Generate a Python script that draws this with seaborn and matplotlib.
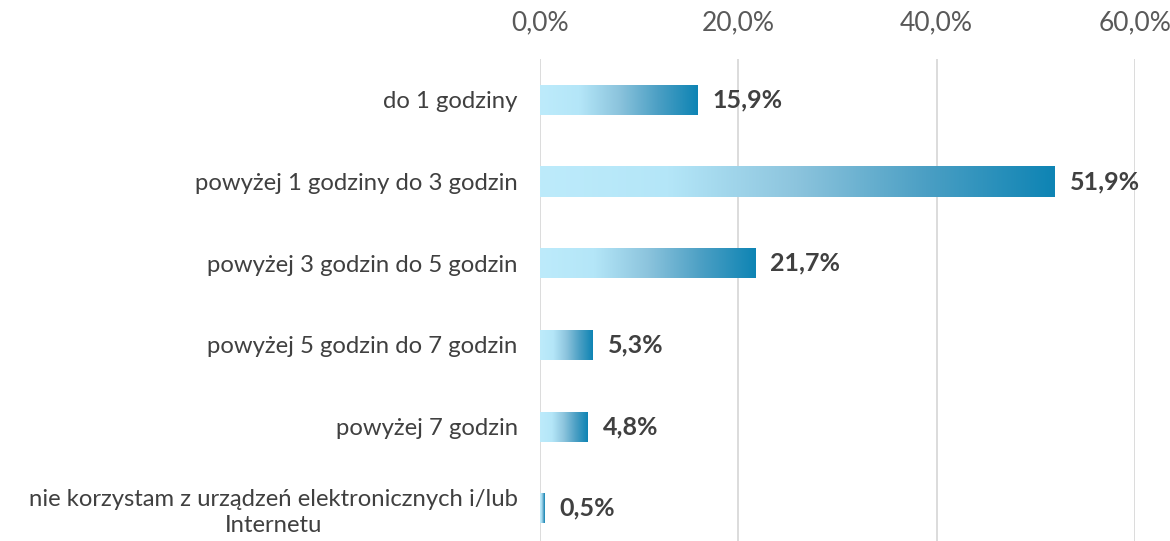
import numpy as np
import pandas as pd
import seaborn as sns
import matplotlib.pyplot as plt
from matplotlib.colors import LinearSegmentedColormap
from matplotlib.ticker import FuncFormatter

categories = [
    "do 1 godziny",
    "powyżej 1 godziny do 3 godzin",
    "powyżej 3 godzin do 5 godzin",
    "powyżej 5 godzin do 7 godzin",
    "powyżej 7 godzin",
    "nie korzystam z urządzeń elektronicznych i/lub\nInternetu",
]
values = [15.9, 51.9, 21.7, 5.3, 4.8, 0.5]
xticks = [0, 20, 40, 60]

df = pd.DataFrame({"category": categories, "value": values})

sns.set_style("white")
plt.rcParams["font.family"] = ["Lato", "DejaVu Sans"]

fig = plt.figure(figsize=(11.7, 5.41), dpi=100)
ax = fig.add_axes([540 / 1170, 0, (1135 - 540) / 1170, 1 - 59 / 541])

sns.barplot(data=df, x="value", y="category", ax=ax, width=0.37,
            color="#1086b6", orient="h")

# gradient fill per bar, clipped to the bar rectangle
grad = LinearSegmentedColormap.from_list(
    "bar", ["#bdebfb", "#b4e6f8", "#8cc4dd", "#4b9fc4", "#0e84b4"]
)
gradient = np.linspace(0, 1, 256).reshape(1, -1)
for patch in ax.patches:
    x0, y0 = patch.get_x(), patch.get_y()
    w, h = patch.get_width(), patch.get_height()
    im = ax.imshow(gradient, cmap=grad, aspect="auto",
                   extent=[x0, x0 + w, y0 + h, y0], zorder=3)
    im.set_clip_path(patch)
    patch.set_facecolor("none")
    patch.set_edgecolor("none")
    ax.text(x0 + w + 1.5, y0 + h / 2, f"{w:.1f}%".replace(".", ","),
            va="center", ha="left", fontsize=18, fontweight="bold",
            color="#404040", zorder=4)

ax.set_xlim(0, 60)
ax.set_ylim(5.4, -0.5)
ax.set_xticks(xticks)
ax.xaxis.set_major_formatter(FuncFormatter(lambda v, p: f"{v:.1f}%".replace(".", ",")))
ax.xaxis.tick_top()
ax.tick_params(axis="x", length=0, pad=17, labelsize=19, labelcolor="#595959")
ax.set_yticks(range(len(categories)), labels=categories,
              multialignment="center", linespacing=1.3)
ax.tick_params(axis="y", length=0, pad=16, labelsize=17.2, labelcolor="#404040")
ax.set_xlabel("")
ax.set_ylabel("")
ax.grid(axis="x", color="#d9d9d9", linewidth=1.3, zorder=0)
ax.set_axisbelow(True)
for s in ax.spines.values():
    s.set_visible(False)

fig.savefig("out.png", dpi=100)
